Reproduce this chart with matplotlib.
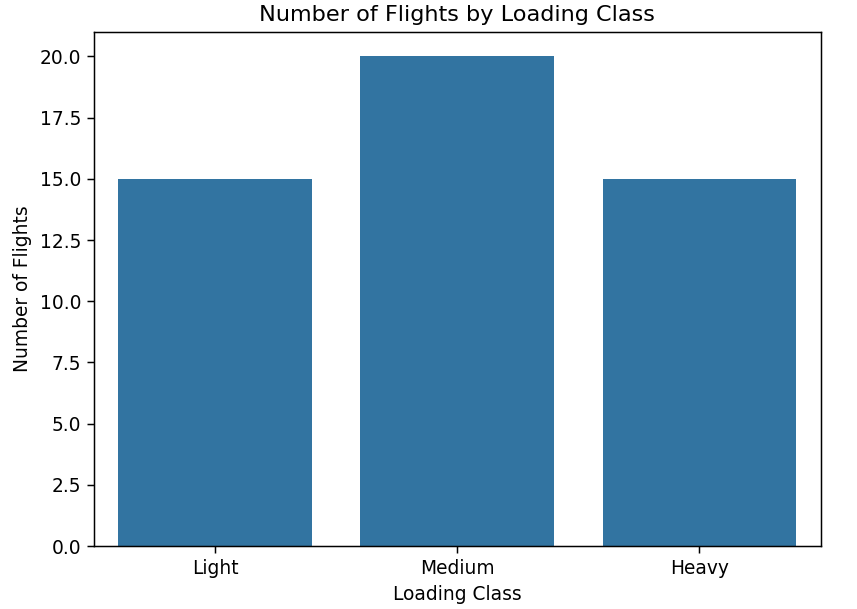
import matplotlib
matplotlib.use("Agg")
import matplotlib.pyplot as plt

# Data
classes = ["Light", "Medium", "Heavy"]
flights = [15, 20, 15]

fig = plt.figure(figsize=(6.4, 609 / 134), dpi=134)
ax = fig.add_axes([94 / 857, 1 - 546 / 609, (820 - 94) / 857, (546 - 32) / 609])

ax.bar(classes, flights, width=0.8, color="#3274a1")
ax.set_xlim(-0.5, 2.5)
ax.set_ylim(0, 21)

ax.set_title("Number of Flights by Loading Class")
ax.set_xlabel("Loading Class")
ax.set_ylabel("Number of Flights")

fig.savefig("out.png", dpi=134)
